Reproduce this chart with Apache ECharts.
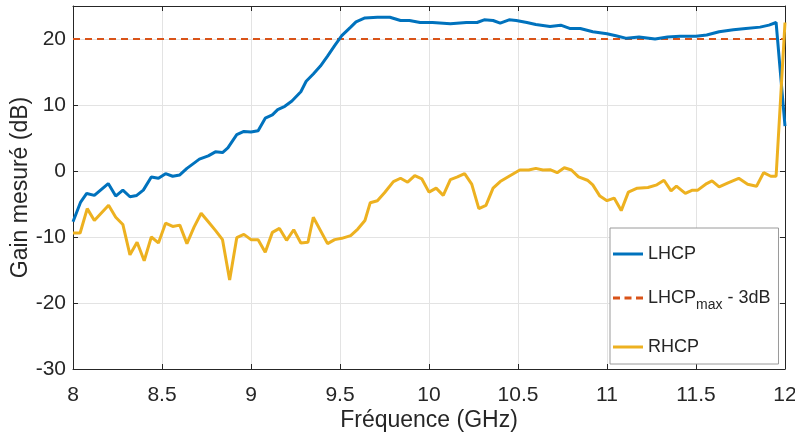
<!DOCTYPE html>
<html><head><meta charset="utf-8">
<script src="https://cdn.jsdelivr.net/npm/echarts@6/dist/echarts.min.js"></script>
<style>html,body{margin:0;padding:0;background:#fff}#c{width:795px;height:432px}</style>
</head><body><div id="c"></div>
<script>
const lhcpFreq = [8.00,8.043,8.077,8.12,8.198,8.24,8.28,8.32,8.358,8.395,8.44,8.48,8.52,8.56,8.60,8.64,8.68,8.71,8.76,8.80,8.84,8.87,8.92,8.96,9.00,9.04,9.08,9.12,9.15,9.19,9.23,9.28,9.31,9.35,9.39,9.43,9.47,9.51,9.56,9.59,9.64,9.71,9.78,9.84,9.89,9.95,10.02,10.12,10.21,10.27,10.31,10.36,10.40,10.45,10.49,10.55,10.60,10.68,10.74,10.79,10.85,10.92,11.00,11.05,11.11,11.18,11.27,11.34,11.41,11.50,11.56,11.63,11.71,11.78,11.86,11.91,11.95,12.00];
const lhcpGain = [-7.7,-4.7,-3.4,-3.7,-1.9,-3.8,-2.9,-3.9,-3.7,-2.9,-0.9,-1.1,-0.4,-0.8,-0.6,0.4,1.2,1.8,2.3,2.9,2.8,3.5,5.5,6.0,5.9,6.1,8.0,8.5,9.3,9.8,10.6,12.0,13.6,14.7,15.9,17.4,19.0,20.5,21.8,22.6,23.2,23.3,23.3,22.8,22.8,22.5,22.5,22.3,22.5,22.5,22.9,22.8,22.4,22.9,22.8,22.5,22.2,21.9,22.1,21.6,21.6,21.1,20.8,20.5,20.1,20.3,20.0,20.3,20.4,20.4,20.6,21.1,21.4,21.6,21.8,22.1,22.5,6.8];
const rhcpFreq = [8.00,8.04,8.08,8.12,8.20,8.24,8.28,8.32,8.36,8.40,8.44,8.48,8.52,8.56,8.60,8.64,8.68,8.72,8.76,8.80,8.84,8.88,8.92,8.96,9.00,9.04,9.08,9.12,9.16,9.20,9.24,9.28,9.32,9.35,9.43,9.47,9.51,9.56,9.60,9.64,9.67,9.71,9.75,9.80,9.84,9.88,9.92,9.96,10.00,10.04,10.08,10.12,10.16,10.20,10.24,10.28,10.32,10.36,10.40,10.45,10.51,10.56,10.60,10.64,10.68,10.72,10.76,10.80,10.84,10.89,10.92,10.96,11.00,11.04,11.08,11.12,11.17,11.23,11.28,11.32,11.36,11.39,11.44,11.48,11.51,11.56,11.59,11.63,11.68,11.74,11.79,11.84,11.88,11.92,11.95,12.00];
const rhcpGain = [-9.4,-9.4,-5.7,-7.5,-5.2,-7.0,-8.1,-12.7,-10.8,-13.6,-10.0,-10.9,-7.9,-8.4,-8.2,-11.0,-8.5,-6.4,-7.7,-9.0,-10.4,-16.5,-10.1,-9.6,-10.4,-10.4,-12.3,-9.3,-8.7,-10.5,-8.9,-10.9,-10.8,-7.0,-11.0,-10.4,-10.2,-9.8,-8.8,-7.5,-4.8,-4.5,-3.3,-1.6,-1.1,-1.7,-0.7,-1.2,-3.2,-2.6,-3.7,-1.3,-0.9,-0.4,-2.0,-5.7,-5.2,-2.6,-1.6,-0.8,0.15,0.15,0.4,0.15,0.2,-0.25,0.5,0.15,-0.9,-1.4,-2.1,-3.8,-4.5,-4.1,-6.0,-3.2,-2.6,-2.5,-2.1,-1.4,-3.0,-2.3,-3.4,-2.9,-2.9,-1.9,-1.5,-2.4,-1.8,-1.1,-2.0,-2.3,-0.25,-0.8,-0.8,22.5];
const refFreq = [8, 12];
const refGain = [20, 20];
const xTicks = {min: 8, max: 12, interval: 0.5};
const yTicks = {min: -30, max: 25, interval: 10};

const zip = (a, b) => a.map((v, i) => [v, b[i]]);
const font = 'Liberation Sans, Arial, sans-serif';
const txt = '#262626';
const solidIcon = 'path://M0,0H30V3H0Z';
const dashIcon = 'path://M0,0H7V3H0Z M11.5,0H18.5V3H11.5Z M23,0H30V3H23Z';
const chart = echarts.init(document.getElementById('c'));
const axisCommon = {
  axisLine: {show: true, onZero: false, lineStyle: {color: txt, width: 1}},
  axisTick: {show: true, inside: true, length: 5, lineStyle: {color: txt}},
};
chart.setOption({
  animation: false,
  grid: {left: 73, right: 10, top: 6, bottom: 63, show: false, containLabel: false, outerBoundsMode: 'none'},
  xAxis: [
    Object.assign({type: 'value', min: xTicks.min, max: xTicks.max, interval: xTicks.interval,
      name: 'Fréquence (GHz)', nameLocation: 'middle', nameGap: 40, nameMoveOverlap: false,
      nameTextStyle: {fontFamily: font, fontSize: 23, color: txt},
      axisLabel: {fontFamily: font, fontSize: 21, color: txt, margin: 16},
      splitLine: {show: true, lineStyle: {color: '#e3e3e3', width: 1}}}, axisCommon),
    Object.assign({type: 'value', position: 'top', min: xTicks.min, max: xTicks.max, interval: xTicks.interval,
      axisLabel: {show: false}, splitLine: {show: false}}, axisCommon)
  ],
  yAxis: [
    Object.assign({type: 'value', min: yTicks.min, max: yTicks.max, interval: yTicks.interval,
      name: 'Gain mesuré (dB)', nameLocation: 'middle', nameGap: 41, nameMoveOverlap: false,
      nameTextStyle: {fontFamily: font, fontSize: 23, color: txt},
      axisLabel: {fontFamily: font, fontSize: 21, color: txt, margin: 7,
        formatter: v => (v % 10 === 0 ? String(v) : '')},
      splitLine: {show: true, lineStyle: {color: '#e3e3e3', width: 1}}}, axisCommon),
    Object.assign({type: 'value', position: 'right', min: yTicks.min, max: yTicks.max, interval: yTicks.interval,
      axisLabel: {show: false}, splitLine: {show: false}}, axisCommon)
  ],
  legend: {
    orient: 'vertical', left: 610, top: 228,
    backgroundColor: '#fff', borderColor: '#9a9a9a', borderWidth: 1,
    padding: [17, 8, 8, 3], itemGap: 26, itemWidth: 30, itemHeight: 3,
    textStyle: {fontFamily: font, fontSize: 18, color: txt,
      rich: {a: {fontFamily: font, fontSize: 18, color: txt},
             s: {fontFamily: font, fontSize: 14, color: txt, padding: [14, 0, 0, 0]}}},
    formatter: n => n === 'REF' ? '{a|LHCP}{s|max}{a| - 3dB}' : n,
    data: [{name: 'LHCP', icon: solidIcon}, {name: 'REF', icon: dashIcon}, {name: 'RHCP', icon: solidIcon}]
  },
  series: [
    {name: 'LHCP', type: 'line', data: zip(lhcpFreq, lhcpGain), symbol: 'none',
      lineStyle: {color: '#0072BD', width: 3}, itemStyle: {color: '#0072BD'}, z: 3},
    {name: 'REF', type: 'line', data: zip(refFreq, refGain), symbol: 'none',
      lineStyle: {color: '#D95319', width: 2, type: [7, 5]}, itemStyle: {color: '#D95319'}, z: 2},
    {name: 'RHCP', type: 'line', data: zip(rhcpFreq, rhcpGain), symbol: 'none',
      lineStyle: {color: '#EDB120', width: 3}, itemStyle: {color: '#EDB120'}, z: 4}
  ]
});
</script></body></html>
